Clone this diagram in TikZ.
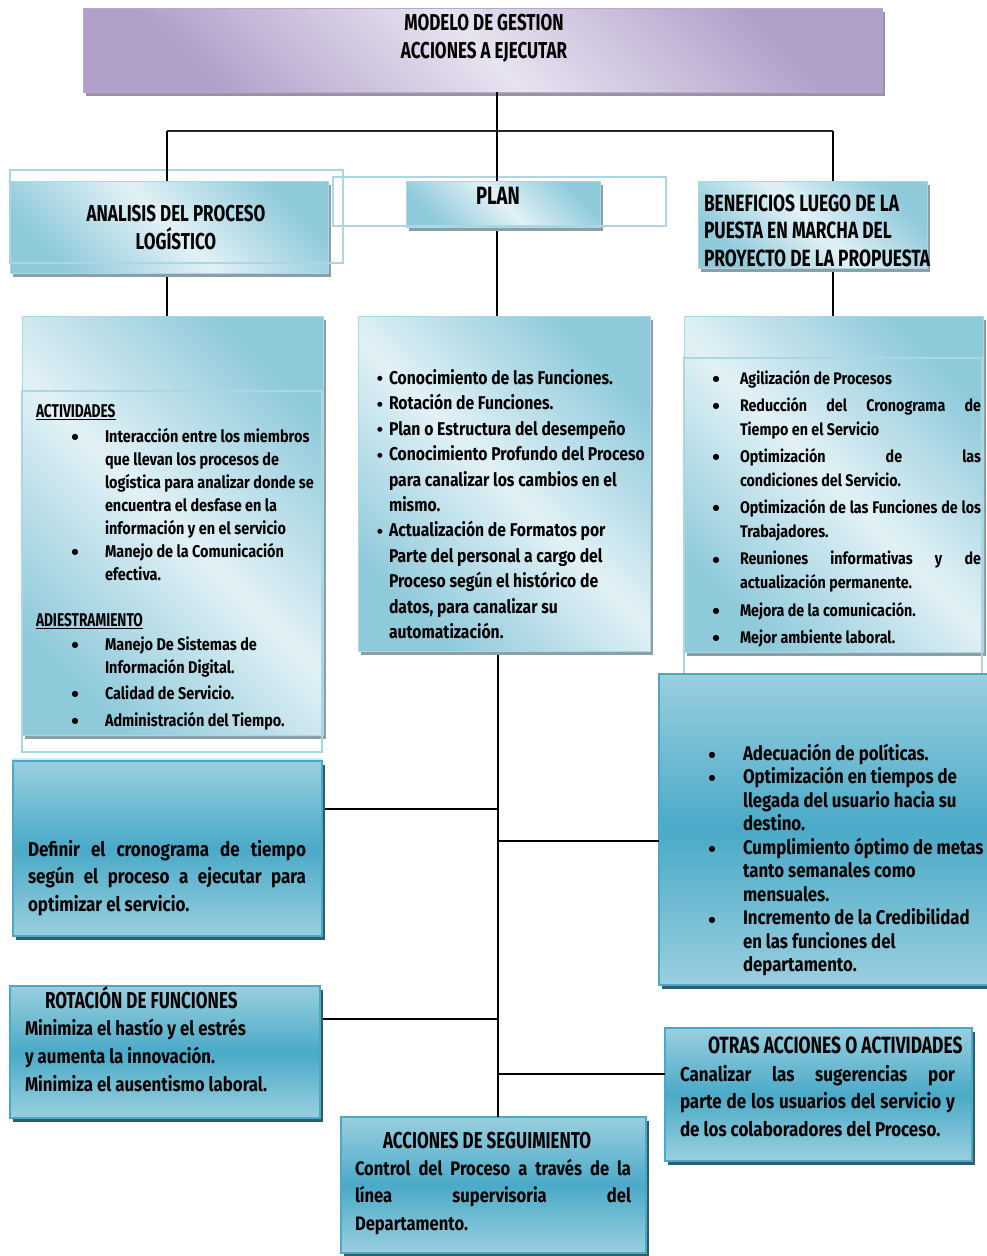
\documentclass[tikz,border=0pt]{standalone}
\usepackage{fontspec}
\setmainfont{Fira Sans}[FakeStretch=0.85]
\newfontfamily\capsfont{Fira Sans}[FakeStretch=0.74]
\newfontfamily\symfont{DejaVu Sans}
\usepackage{enumitem}
\usetikzlibrary{shadows}
\definecolor{lbA}{HTML}{E2F1F6}
\definecolor{lbB}{HTML}{8FCADB}
\definecolor{dbMid}{HTML}{4AAAC8}
\definecolor{dbEdge}{HTML}{9ACFDF}
\definecolor{dbBorder}{HTML}{4BA9C6}
\definecolor{lbBorder}{HTML}{A9D8E4}
\definecolor{puA}{HTML}{E8E3F0}
\definecolor{puB}{HTML}{B09FC9}
\definecolor{puBorder}{HTML}{B9A9D0}
\definecolor{shL}{HTML}{8C9EA6}
\definecolor{shD}{HTML}{2E5D6C}
\definecolor{shP}{HTML}{9A93A3}
\newcommand{\tbox}[2]{\begin{minipage}[t]{#1}#2\end{minipage}}
\newcommand{\blt}{\makebox[0pt]{\raisebox{2.8pt}{\symfont\fontsize{8}{8}\selectfont ●}}}
\newcommand{\bltS}{\makebox[0pt]{\raisebox{3.5pt}{\symfont\fontsize{6.5}{8}\selectfont ●}}}
\begin{document}
\begin{tikzpicture}[x=1pt,y=-1pt,
  boxbase/.style={anchor=north west, inner sep=0pt, outer sep=0pt},
  lightbox/.style={boxbase, draw=lbBorder, line width=0.8pt, shade,
     top color=lbB, bottom color=lbB, middle color=lbA, shading angle=-45,
     drop shadow={shadow xshift=3pt, shadow yshift=-4pt, fill=shL, opacity=1}},
  purplebox/.style={boxbase, draw=puBorder, line width=1pt, shade,
     top color=puB, bottom color=puB, middle color=puA, shading angle=-45,
     drop shadow={shadow xshift=3pt, shadow yshift=-4pt, fill=shP, opacity=1}},
  darkbox/.style={boxbase, draw=dbBorder, line width=1.5pt, shade,
     top color=dbEdge, bottom color=dbEdge, middle color=dbMid,
     drop shadow={shadow xshift=3pt, shadow yshift=-4pt, fill=shD, opacity=1}},
  outl/.style={draw=lbBorder, line width=1.2pt},
  conn/.style={draw=black, line width=1.1pt},
  txt/.style={inner sep=0pt, outer sep=0pt, anchor=base west, font=\bfseries},
  ctxt/.style={inner sep=0pt, outer sep=0pt, anchor=base, font=\bfseries}]
\useasboundingbox (0,0) rectangle (987,1256);
\fill[white] (0,0) rectangle (987,1256);

% boxes
\node[purplebox, minimum width=799pt, minimum height=84pt] (top) at (83,8) {};
\node[lightbox, minimum width=318pt, minimum height=92pt] (ana) at (10,181) {};
\draw[outl] (10,170) rectangle (343,263);
\node[lightbox, minimum width=194pt, minimum height=46pt] (plan) at (406,181) {};
\draw[outl] (333,177) rectangle (666,226);
\node[lightbox, minimum width=229pt, minimum height=87pt] (ben) at (698,181) {};
\node[lightbox, minimum width=301pt, minimum height=419pt] (lbox) at (22,316) {};
\draw[outl] (22,391) rectangle (322,752);
\draw[outl, opacity=0.5] (12,759) -- (322,759);
\node[lightbox, minimum width=292pt, minimum height=335pt] (mbox) at (358,316) {};
\node[lightbox, minimum width=299pt, minimum height=336pt] (rbox) at (684,316) {};
\draw[outl] (684,358) rectangle (982,700);
\node[darkbox, minimum width=309pt, minimum height=175pt] (defb) at (13,761) {};
\node[darkbox, minimum width=332pt, minimum height=311pt] (rdark) at (659,674) {};
\node[darkbox, minimum width=310pt, minimum height=132pt] (rot) at (10,986) {};
\node[darkbox, minimum width=307pt, minimum height=133pt] (otras) at (665,1028) {};
\node[darkbox, minimum width=305pt, minimum height=136pt] (seg) at (341,1117) {};

% connectors
\coordinate (jc) at (497,131);
\coordinate (jl) at (167,131);
\coordinate (jr) at (833,131);
\draw[conn] (top.south -| jc) -- (jc);
\draw[conn, line width=1.6pt, draw=black!85] (jl) -- (jr);
\draw[conn] (jl) -- (jl |- ana.north);
\draw[conn] (jc) -- (jc |- plan.north);
\draw[conn] (jr) -- (jr |- ben.north);
\draw[conn] ([yshift=-4pt]ana.south -| jl) -- (jl |- lbox.north);
\draw[conn] ([yshift=-4pt]plan.south -| jc) -- (jc |- mbox.north);
\draw[conn] ([yshift=-4pt]ben.south -| jr) -- (jr |- rbox.north);
\coordinate (s1) at (498,651);
\coordinate (b1) at (498,809);
\coordinate (b2) at (498,841);
\coordinate (b3) at (498,1019);
\coordinate (b4) at (498,1074);
\draw[conn] ([yshift=-4pt]mbox.south -| s1) -- (seg.north -| s1);
\draw[conn] (b1) -- ([xshift=3pt]b1 -| defb.east);
\draw[conn] (b2) -- (b2 -| rdark.west);
\draw[conn] (b3) -- ([xshift=3pt]b3 -| rot.east);
\draw[conn] (b4) -- (b4 -| otras.west);

% texts
\node[ctxt] (tTop) at (484,30) {\tbox{400pt}{\centering\capsfont\fontsize{23}{28}\selectfont MODELO DE GESTION\\ACCIONES A EJECUTAR}};
\node[ctxt] (tAna) at (176,221) {\tbox{300pt}{\centering\capsfont\fontsize{23}{28}\selectfont ANALISIS DEL PROCESO\\LOGÍSTICO}};
\node[ctxt] (tPlan) at (498,204.6) {\capsfont\fontsize{25}{28}\selectfont PLAN};
\node[txt] (tBen) at (704,211) {\tbox{280pt}{\raggedright\capsfont\fontsize{23.5}{27.5}\selectfont BENEFICIOS LUEGO DE LA\\PUESTA EN MARCHA DEL\\PROYECTO DE LA PROPUESTA}};

\node[txt] (tAct) at (36,417.4) {\capsfont\fontsize{18.5}{20}\selectfont\underline{ACTIVIDADES}};
\node[txt] (tL1) at (36,442) {\tbox{285pt}{\raggedright\fontsize{17}{23}\selectfont
 \begin{itemize}[nosep, leftmargin=69pt, labelsep=30pt, labelwidth=0pt, label=\blt]
 \item Interacción entre los miembros\\que llevan los procesos de\\logística para analizar donde se\\encuentra el desfase en la\\información y en el servicio
 \item Manejo de la Comunicación\\efectiva.
 \end{itemize}}};
\node[txt] (tAdi) at (36,626.4) {\capsfont\fontsize{18.5}{20}\selectfont\underline{ADIESTRAMIENTO}};
\node[txt] (tL2) at (36,650) {\tbox{285pt}{\raggedright\fontsize{17}{23}\selectfont
 \begin{itemize}[nosep, itemsep=3.5pt, leftmargin=69pt, labelsep=30pt, labelwidth=0pt, label=\blt]
 \item Manejo De Sistemas de\\Información Digital.
 \item Calidad de Servicio.
 \item Administración del Tiempo.
 \end{itemize}}};

\node[txt] (tMid) at (376,384.4) {\tbox{280pt}{\raggedright\fontsize{18.5}{25.4}\selectfont
 \begin{itemize}[nosep, leftmargin=13pt, labelsep=9pt, labelwidth=0pt, label=\bltS]
 \item Conocimiento de las Funciones.
 \item Rotación de Funciones.
 \item Plan o Estructura del desempeño
 \item Conocimiento Profundo del Proceso\\para canalizar los cambios en el\\mismo.
 \item Actualización de Formatos por\\Parte del personal a cargo del\\Proceso según el histórico de\\datos, para canalizar su\\automatización.
 \end{itemize}}};

\node[txt] (tRt) at (705,384) {\tbox{276pt}{\fontsize{16.8}{24}\selectfont
 \begin{itemize}[nosep, itemsep=3.2pt, leftmargin=35pt, labelsep=24pt, labelwidth=0pt, label=\blt]
 \item Agilización de Procesos
 \item Reducción del Cronograma de\linebreak Tiempo en el Servicio
 \item Optimización de las\linebreak condiciones del Servicio.
 \item Optimización de las Funciones de los\linebreak Trabajadores.
 \item Reuniones informativas y de\linebreak actualización permanente.
 \item Mejora de la comunicación.
 \item Mejor ambiente laboral.
 \end{itemize}}};

\node[txt] (tDef) at (28,856) {\tbox{278pt}{\fontsize{20}{27.5}\selectfont
 Definir el cronograma de tiempo\linebreak según el proceso a ejecutar para\linebreak optimizar el servicio.}};

\node[txt] (tRd) at (705,760) {\tbox{285pt}{\raggedright\fontsize{19.8}{23.55}\selectfont
 \begin{itemize}[nosep, leftmargin=38pt, labelsep=31pt, labelwidth=0pt, label=\blt]
 \item Adecuación de políticas.
 \item Optimización en tiempos de\\llegada del usuario hacia su\\destino.
 \item Cumplimiento óptimo de metas\\tanto semanales como\\mensuales.
 \item Incremento de la Credibilidad\\en las funciones del\\departamento.
 \end{itemize}}};

\node[txt] (tRotT) at (45,1008) {\capsfont\fontsize{23}{24}\selectfont ROTACIÓN DE FUNCIONES};
\node[txt] (tRot) at (25,1035) {\tbox{290pt}{\raggedright\fontsize{19.8}{28}\selectfont
 Minimiza el hastío y el estrés\\y aumenta la innovación.\\Minimiza el ausentismo laboral.}};

\node[txt] (tOtT) at (708,1053) {\capsfont\fontsize{23.5}{24}\selectfont OTRAS ACCIONES O ACTIVIDADES};
\node[txt] (tOt) at (680,1081) {\tbox{275pt}{\fontsize{20}{27.5}\selectfont
 Canalizar las sugerencias por\linebreak parte de los usuarios del servicio y\linebreak de los colaboradores del Proceso.}};

\node[txt] (tSgT) at (383,1148) {\capsfont\fontsize{23}{24}\selectfont ACCIONES DE SEGUIMIENTO};
\node[txt] (tSg) at (355,1175) {\tbox{276pt}{\fontsize{19.5}{27.5}\selectfont
 Control del Proceso a través de la\linebreak línea supervisoria del\linebreak Departamento.}};
\end{tikzpicture}
\end{document}
